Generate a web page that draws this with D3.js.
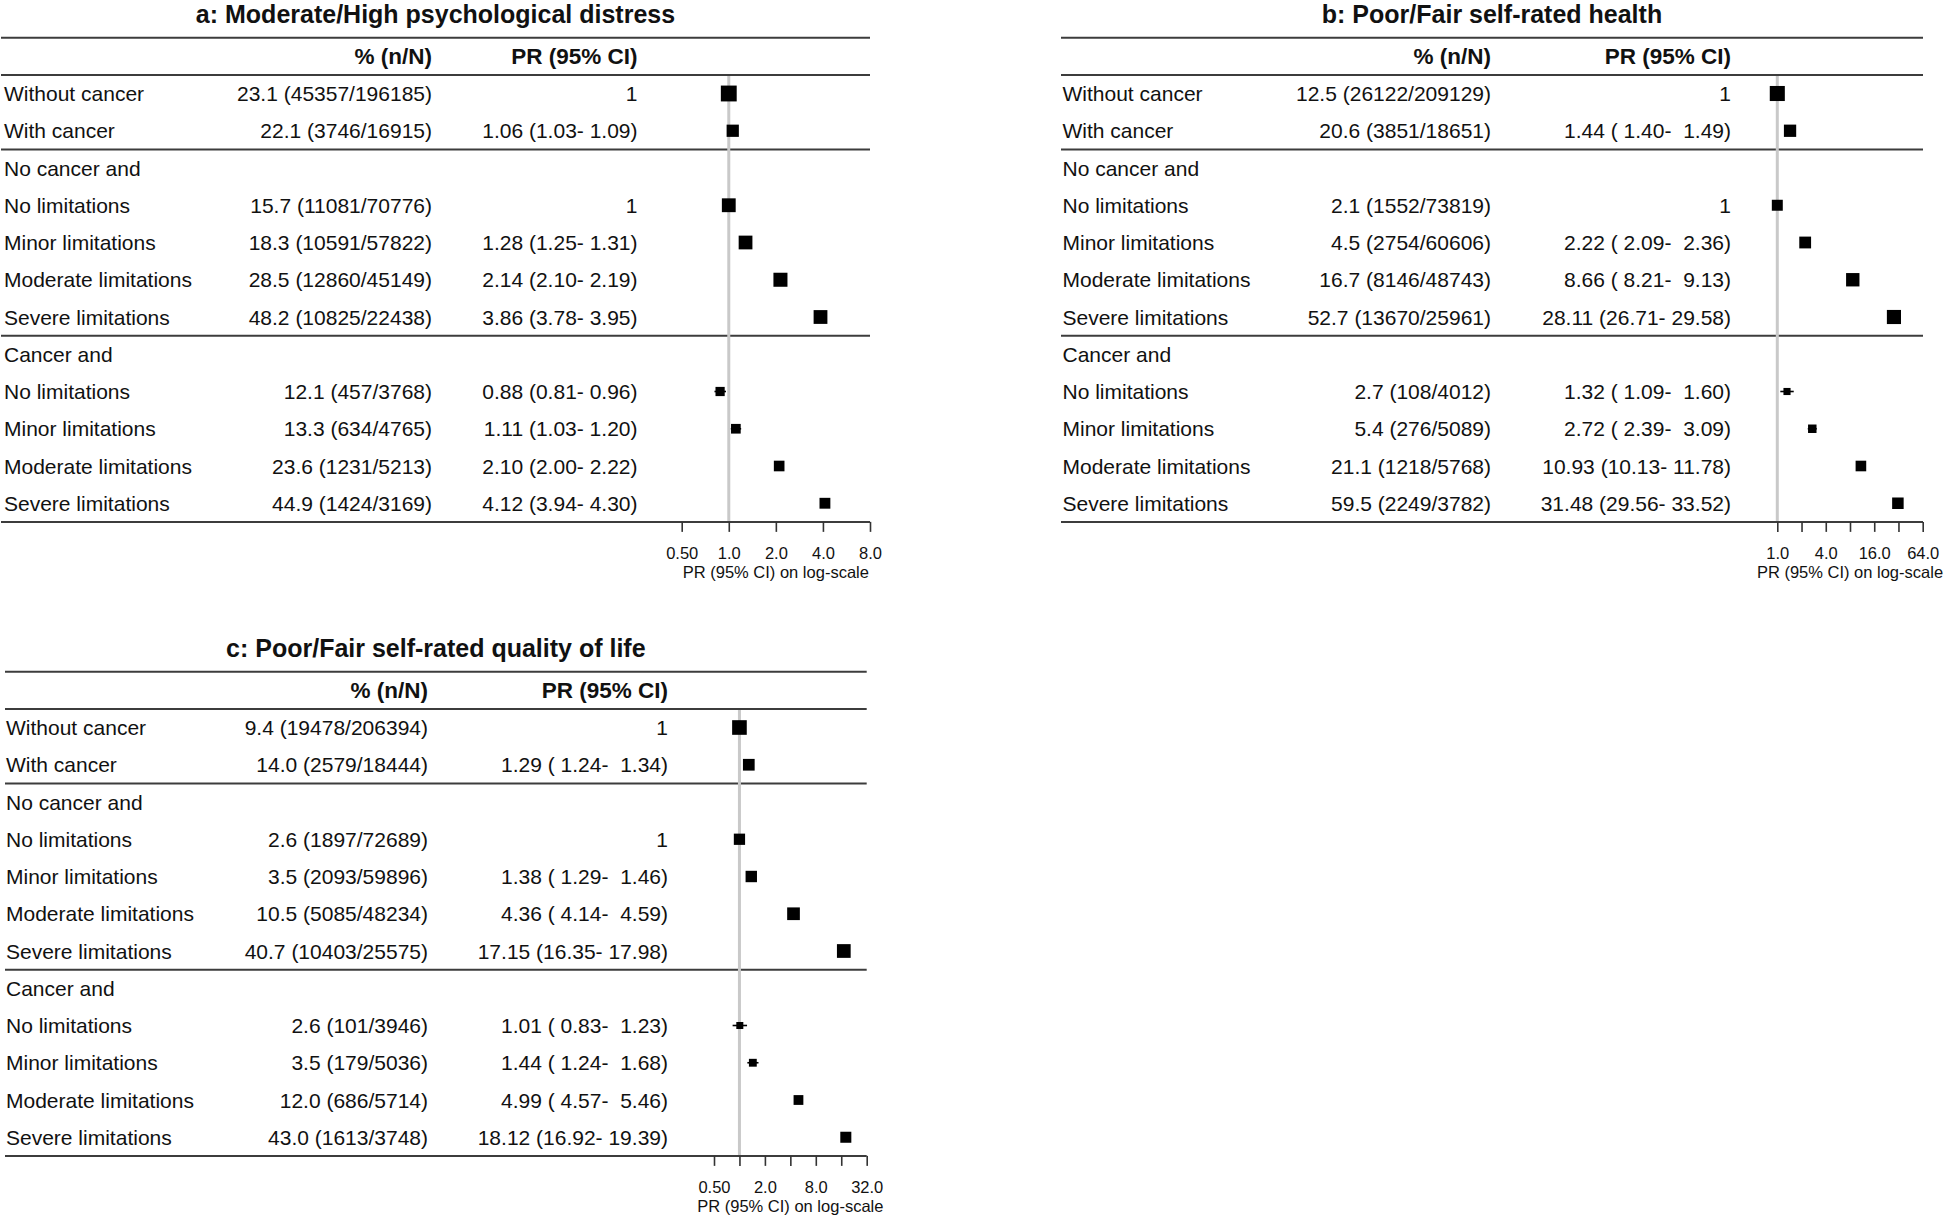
<!DOCTYPE html>
<html><head><meta charset="utf-8">
<script src="https://cdn.jsdelivr.net/npm/d3@7"></script>
<style>
html,body{margin:0;padding:0;background:#fff;}
svg text{font-family:"Liberation Sans",Arial,Helvetica,sans-serif;white-space:pre;fill:#111;}
</style></head><body>
<svg id="chart" width="1946" height="1219"></svg>
<script>
// ---------- DATA ----------
const rowLabels = ["Without cancer","With cancer","No cancer and","No limitations","Minor limitations","Moderate limitations","Severe limitations","Cancer and","No limitations","Minor limitations","Moderate limitations","Severe limitations"];
const groupRows = [false,false,true,false,false,false,false,true,false,false,false,false];

const titleA = "a: Moderate/High psychological distress";
const pctA = [23.1,22.1,null,15.7,18.3,28.5,48.2,null,12.1,13.3,23.6,44.9];
const nA   = [45357,3746,null,11081,10591,12860,10825,null,457,634,1231,1424];
const totA = [196185,16915,null,70776,57822,45149,22438,null,3768,4765,5213,3169];
const estA = [1,1.06,null,1,1.28,2.14,3.86,null,0.88,1.11,2.10,4.12];
const loA  = [null,1.03,null,null,1.25,2.10,3.78,null,0.81,1.03,2.00,3.94];
const hiA  = [null,1.09,null,null,1.31,2.19,3.95,null,0.96,1.20,2.22,4.30];
const ticksA = [0.5,1,2,4,8];
const tickLabelsA = ["0.50","1.0","2.0","4.0","8.0"];

const titleB = "b: Poor/Fair self-rated health";
const pctB = [12.5,20.6,null,2.1,4.5,16.7,52.7,null,2.7,5.4,21.1,59.5];
const nB   = [26122,3851,null,1552,2754,8146,13670,null,108,276,1218,2249];
const totB = [209129,18651,null,73819,60606,48743,25961,null,4012,5089,5768,3782];
const estB = [1,1.44,null,1,2.22,8.66,28.11,null,1.32,2.72,10.93,31.48];
const loB  = [null,1.40,null,null,2.09,8.21,26.71,null,1.09,2.39,10.13,29.56];
const hiB  = [null,1.49,null,null,2.36,9.13,29.58,null,1.60,3.09,11.78,33.52];
const ticksB = [1,2,4,8,16,32,64];
const tickLabelsB = ["1.0","","4.0","","16.0","","64.0"];

const titleC = "c: Poor/Fair self-rated quality of life";
const pctC = [9.4,14.0,null,2.6,3.5,10.5,40.7,null,2.6,3.5,12.0,43.0];
const nC   = [19478,2579,null,1897,2093,5085,10403,null,101,179,686,1613];
const totC = [206394,18444,null,72689,59896,48234,25575,null,3946,5036,5714,3748];
const estC = [1,1.29,null,1,1.38,4.36,17.15,null,1.01,1.44,4.99,18.12];
const loC  = [null,1.24,null,null,1.29,4.14,16.35,null,0.83,1.24,4.57,16.92];
const hiC  = [null,1.34,null,null,1.46,4.59,17.98,null,1.23,1.68,5.46,19.39];
const ticksC = [0.5,1,2,4,8,16,32];
const tickLabelsC = ["0.50","","2.0","","8.0","","32.0"];

const headerPct = "% (n/N)";
const headerPR = "PR (95% CI)";
const axisTitle = "PR (95% CI) on log-scale";

// ---------- DRAW ----------
const svg = d3.select("#chart");
const ROW0 = 93.5, ROWH = 37.25;
const boxSize = d3.scaleLog().domain([100, 50000]).range([7, 16]);
const f2 = d3.format(".2f");

function panel(cfg, d) {
  const g = svg.append("g").attr("transform", `translate(0,${cfg.top})`);
  const rowY = i => ROW0 + i * ROWH;
  const x = d3.scaleLog().domain([d.ticks[0], d.ticks[d.ticks.length-1]]).range(cfg.xr);
  const lineColor = "#3c3c3c";
  // title
  g.append("text").attr("x", (cfg.x0 + cfg.x1)/2).attr("y", 23)
    .attr("text-anchor","middle").attr("font-size", 25).attr("font-weight","bold").text(d.title);
  // header
  const hy = rowY(-1) + 8;
  g.append("text").attr("x", cfg.pctRight).attr("y", hy).attr("text-anchor","end")
    .attr("font-size",22.5).attr("font-weight","bold").text(headerPct);
  g.append("text").attr("x", cfg.prRight).attr("y", hy).attr("text-anchor","end")
    .attr("font-size",22.5).attr("font-weight","bold").text(headerPR);
  // horizontal rules
  const rules = [rowY(-1.5), rowY(-0.5), rowY(1.5), rowY(6.5)];
  rules.forEach(y => g.append("line").attr("x1", cfg.x0).attr("x2", cfg.x1)
    .attr("y1", y).attr("y2", y).attr("stroke", lineColor).attr("stroke-width", 2));
  const axisY = rowY(d.labels.length - 0.5);
  g.append("line").attr("x1", cfg.x0).attr("x2", cfg.x1).attr("y1", axisY).attr("y2", axisY)
    .attr("stroke", lineColor).attr("stroke-width", 2);
  // reference line
  g.append("line").attr("x1", x(1)).attr("x2", x(1)).attr("y1", rowY(-0.5)+1).attr("y2", axisY-1)
    .attr("stroke", "#c9c9c9").attr("stroke-width", 3);
  // width for padding CI numbers
  const padW = d3.max(d.lo.concat(d.hi).filter(v => v != null).map(v => f2(v).length));
  const pad = v => f2(v).padStart(padW, " ");
  d.labels.forEach((lab, i) => {
    const y = rowY(i);
    g.append("text").attr("x", cfg.labelX).attr("y", y + 7.5).attr("font-size", 21).text(lab);
    if (d.group[i]) return;
    g.append("text").attr("x", cfg.pctRight).attr("y", y + 7.5).attr("text-anchor","end")
      .attr("font-size", 21).text(`${d.pct[i].toFixed(1)} (${d.n[i]}/${d.tot[i]})`);
    const prTxt = d.lo[i] == null ? String(d.est[i]) : `${f2(d.est[i])} (${pad(d.lo[i])}- ${pad(d.hi[i])})`;
    g.append("text").attr("x", cfg.prRight).attr("y", y + 7.5).attr("text-anchor","end")
      .attr("font-size", 21).text(prTxt);
    if (d.lo[i] != null) {
      g.append("line").attr("x1", x(d.lo[i])).attr("x2", x(d.hi[i])).attr("y1", y).attr("y2", y)
        .attr("stroke", "#000").attr("stroke-width", 1.6);
    }
    const s = boxSize(d.n[i]);
    g.append("rect").attr("x", x(d.est[i]) - s/2).attr("y", y - s/2)
      .attr("width", s).attr("height", s).attr("fill", "#000");
  });
  // axis
  const ax = g.append("g").attr("transform", `translate(0,${axisY})`)
    .call(d3.axisBottom(x).tickValues(d.ticks).tickFormat((v, i) => d.tickLabels[i])
      .tickSize(10).tickSizeOuter(0).tickPadding(15));
  ax.select(".domain").remove();
  ax.selectAll(".tick line").attr("stroke", "#333").attr("stroke-width", 1.6);
  ax.selectAll(".tick text").attr("font-size", 16.5).attr("fill", "#222")
    .attr("font-family", '"Liberation Sans",Arial,sans-serif');
  g.append("text").attr("x", (cfg.xr[0] + cfg.xr[1]) / 2).attr("y", axisY + 56.5)
    .attr("text-anchor", "middle").attr("font-size", 16.5).attr("fill", "#222").text(axisTitle);
}

panel({top: 0, x0: 1, x1: 870, labelX: 4, pctRight: 432, prRight: 637.5, xr: [681.7, 870]},
  {title: titleA, labels: rowLabels, group: groupRows, pct: pctA, n: nA, tot: totA, est: estA, lo: loA, hi: hiA, ticks: ticksA, tickLabels: tickLabelsA});
panel({top: 0, x0: 1061, x1: 1923, labelX: 1062.5, pctRight: 1491, prRight: 1731, xr: [1777.3, 1922.7]},
  {title: titleB, labels: rowLabels, group: groupRows, pct: pctB, n: nB, tot: totB, est: estB, lo: loB, hi: hiB, ticks: ticksB, tickLabels: tickLabelsB});
panel({top: 634, x0: 5, x1: 866.7, labelX: 6, pctRight: 428, prRight: 668, xr: [714, 866.7]},
  {title: titleC, labels: rowLabels, group: groupRows, pct: pctC, n: nC, tot: totC, est: estC, lo: loC, hi: hiC, ticks: ticksC, tickLabels: tickLabelsC});
</script>
</body></html>
